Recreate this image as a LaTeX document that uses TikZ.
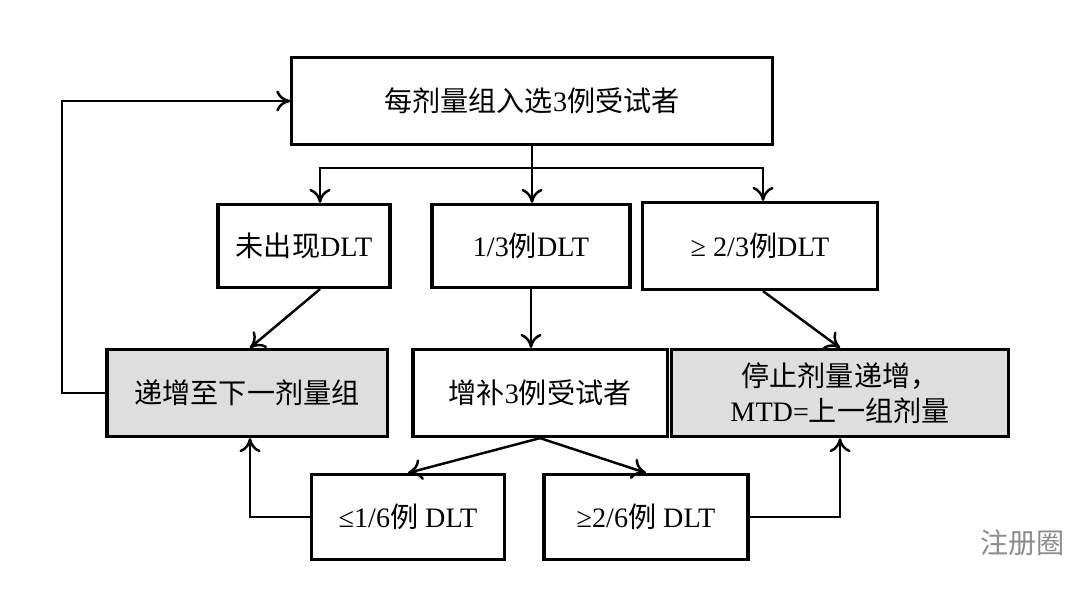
\documentclass[tikz,border=0pt]{standalone}
\usepackage{fontspec}
\setmainfont{Liberation Serif}
\newfontfamily\cjk{Noto Sans CJK SC}
\usetikzlibrary{arrows.meta}
\tikzset{
  box/.style={draw,line width=0.9pt,inner sep=0pt,font=\fontsize{8}{10}\selectfont,align=center},
  grey/.style={box,fill=black!13},
  link/.style={line width=0.7pt,-{To[length=4pt,width=6pt]}}
}
\begin{document}
\begin{tikzpicture}[x=0.01cm,y=-0.01cm]
\useasboundingbox (0,0) rectangle (1080,590);
\node[box,minimum width=4.8cm,minimum height=0.87cm] (top) at (532,101) {{\cjk 每剂量组入选}3{\cjk 例受试者}};

\node[box,minimum width=1.72cm,minimum height=0.83cm] (none) at (304,246) {{\cjk 未出现}DLT};
\node[box,minimum width=1.98cm,minimum height=0.83cm] (one) at (531,246) {1/3{\cjk 例}DLT};
\node[box,minimum width=2.35cm,minimum height=0.87cm] (two) at (760,246) {≥ 2/3{\cjk 例}DLT};

\node[grey,minimum width=2.8cm,minimum height=0.87cm] (up) at (247,393) {\cjk 递增至下一剂量组};
\node[box,minimum width=2.54cm,minimum height=0.87cm] (add) at (540,393) {{\cjk 增补}3{\cjk 例受试者}};
\node[grey,minimum width=3.37cm,minimum height=0.87cm] (stop) at (840,393) {{\cjk 停止剂量递增，}\\MTD={\cjk 上一组剂量}};

\node[box,minimum width=1.93cm,minimum height=0.85cm] (low) at (408,517) {≤1/6{\cjk 例} DLT};
\node[box,minimum width=2.04cm,minimum height=0.85cm] (high) at (646,517) {≥2/6{\cjk 例} DLT};

\coordinate (split) at (532,168);
\draw[line width=0.7pt] (top.south) -- (split);
\draw[link] (split) -| (none.north -| 320,0);
\draw[link] (split) -| (two.north -| 763,0);
\draw[link] (split) -- (one.north -| split);

\draw[link] (none.south -| 320,0) -- (up.north -| 250,0);
\draw[link] (one.south) -- (add.north -| one.south);
\draw[link] (two.south -| 763,0) -- (stop.north);

\draw[link] (add.south) -- (low.north);
\draw[link] (add.south) -- (high.north);
\draw[link] (low.west) -| (up.south -| 250,0);
\draw[link] (high.east) -| (stop.south);
\draw[link] (up.west) -- (62,393) |- (top.west);

\node[text=black!45,font=\cjk\fontsize{8}{10}\selectfont,anchor=west] (mark) at (968,543) {注册圈};
\end{tikzpicture}
\end{document}
